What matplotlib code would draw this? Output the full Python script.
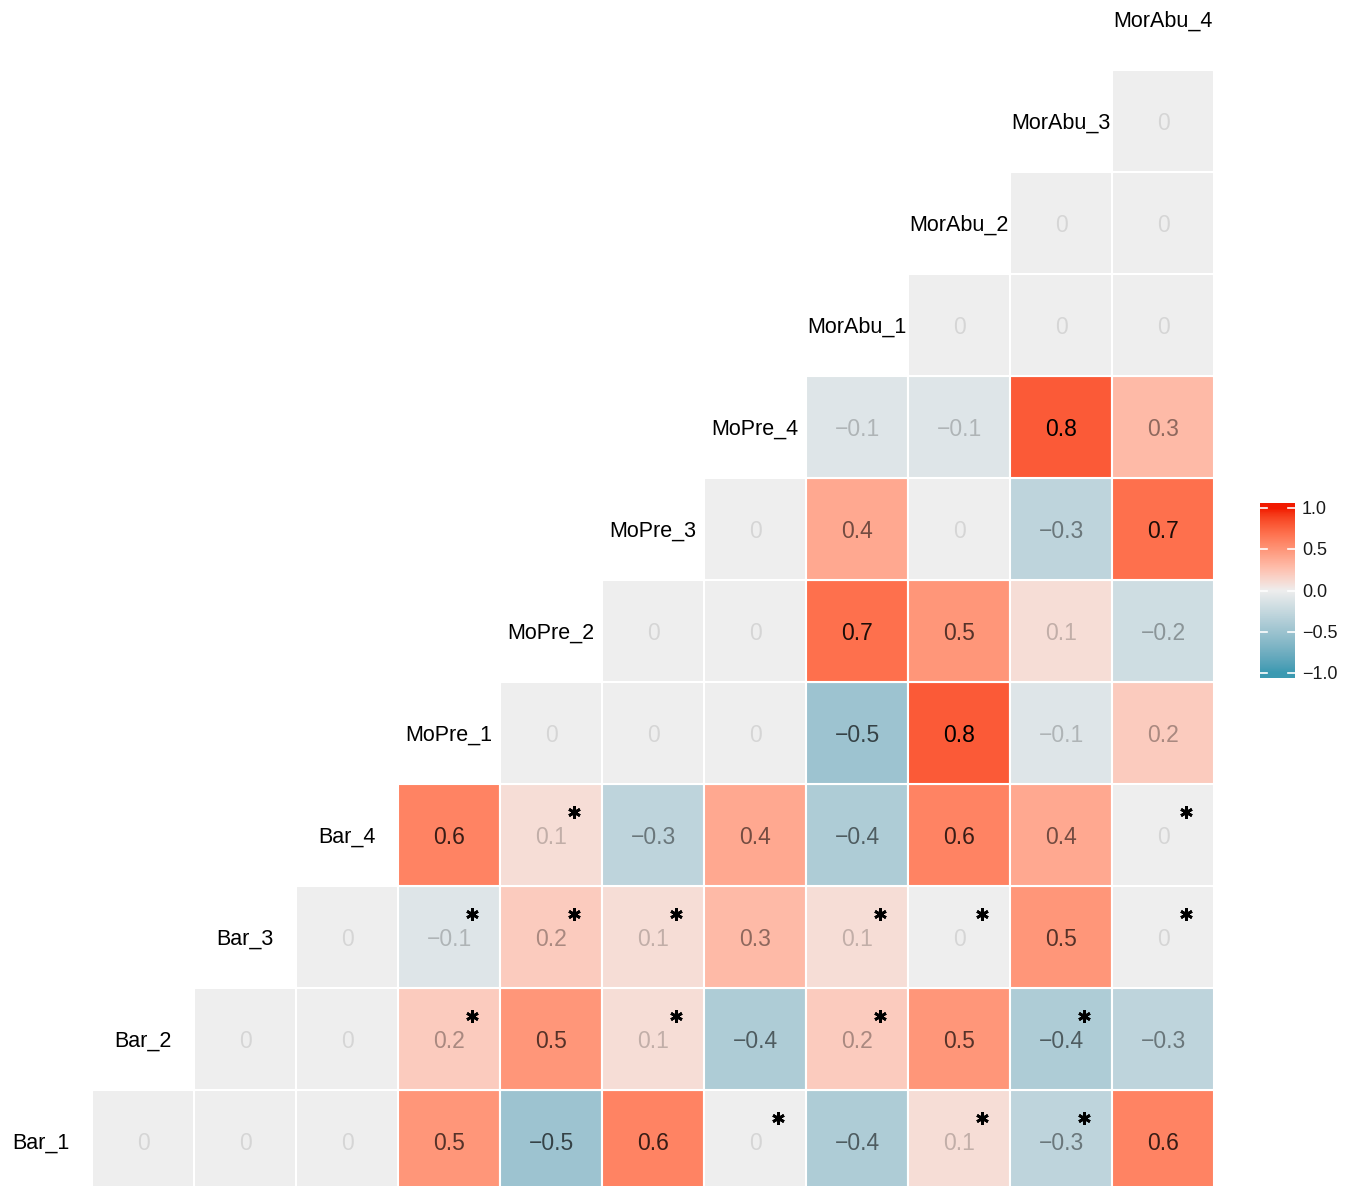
import matplotlib
matplotlib.use("Agg")
import matplotlib.pyplot as plt
import matplotlib.colors as mcolors
from matplotlib.patches import Rectangle
import numpy as np

plt.rcParams['font.family'] = ['Liberation Sans', 'DejaVu Sans']

# --- Data (lower triangle, one list per variable; first entry is the next variable) ---
labels = ["Bar_1", "Bar_2", "Bar_3", "Bar_4",
          "MoPre_1", "MoPre_2", "MoPre_3", "MoPre_4",
          "MorAbu_1", "MorAbu_2", "MorAbu_3", "MorAbu_4"]

bar_1 = [0, 0, 0, 0.5, -0.5, 0.6, 0, -0.4, 0.1, -0.3, 0.6]
bar_2 = [0, 0, 0.2, 0.5, 0.1, -0.4, 0.2, 0.5, -0.4, -0.3]
bar_3 = [0, -0.1, 0.2, 0.1, 0.3, 0.1, 0, 0.5, 0]
bar_4 = [0.6, 0.1, -0.3, 0.4, -0.4, 0.6, 0.4, 0]
mopre_1 = [0, 0, 0, -0.5, 0.8, -0.1, 0.2]
mopre_2 = [0, 0, 0.7, 0.5, 0.1, -0.2]
mopre_3 = [0, 0.4, 0, -0.3, 0.7]
mopre_4 = [-0.1, -0.1, 0.8, 0.3]
morabu_1 = [0, 0, 0]
morabu_2 = [0, 0]
morabu_3 = [0]

rows = [bar_1, bar_2, bar_3, bar_4, mopre_1, mopre_2, mopre_3, mopre_4,
        morabu_1, morabu_2, morabu_3]

# significant pairs (row variable, column variable)
stars = [("Bar_1", "MoPre_4"), ("Bar_1", "MorAbu_2"), ("Bar_1", "MorAbu_3"),
         ("Bar_2", "MoPre_1"), ("Bar_2", "MoPre_3"), ("Bar_2", "MorAbu_1"), ("Bar_2", "MorAbu_3"),
         ("Bar_3", "MoPre_1"), ("Bar_3", "MoPre_2"), ("Bar_3", "MoPre_3"), ("Bar_3", "MorAbu_1"),
         ("Bar_3", "MorAbu_2"), ("Bar_3", "MorAbu_4"),
         ("Bar_4", "MoPre_2"), ("Bar_4", "MorAbu_4")]

cbar_ticks = [-1.0, -0.5, 0.0, 0.5, 1.0]

LOW, MID, HIGH = "#3B9AB2", "#EEEEEE", "#F21A00"


# --- Lab interpolation like ggplot's gradient2 ---
WHITE = np.array([0.95047, 1.0, 1.08883])
M = np.array([[0.4124, 0.3576, 0.1805], [0.2126, 0.7152, 0.0722], [0.0193, 0.1192, 0.9505]])


def to_lab(c):
    rgb = np.array(mcolors.to_rgb(c))
    lin = np.where(rgb <= 0.04045, rgb / 12.92, ((rgb + 0.055) / 1.055) ** 2.4)
    xyz = M @ lin / WHITE
    f = np.where(xyz > 0.008856, np.cbrt(xyz), 7.787 * xyz + 16 / 116)
    return np.array([116 * f[1] - 16, 500 * (f[0] - f[1]), 200 * (f[1] - f[2])])


def from_lab(lab):
    fy = (lab[0] + 16) / 116
    f = np.array([fy + lab[1] / 500, fy, fy - lab[2] / 200])
    xyz = np.where(f ** 3 > 0.008856, f ** 3, (f - 16 / 116) / 7.787) * WHITE
    lin = np.linalg.solve(M, xyz)
    lin = np.clip(lin, 0, 1)
    rgb = np.where(lin <= 0.0031308, 12.92 * lin, 1.055 * lin ** (1 / 2.4) - 0.055)
    return np.clip(rgb, 0, 1)


lab_lo, lab_mid, lab_hi = to_lab(LOW), to_lab(MID), to_lab(HIGH)
samples = []
for t in np.linspace(-1, 1, 201):
    if t < 0:
        lab = lab_mid + (lab_lo - lab_mid) * (-t)
    else:
        lab = lab_mid + (lab_hi - lab_mid) * t
    samples.append(from_lab(lab))
cmap = mcolors.ListedColormap(samples)
norm = mcolors.Normalize(-1, 1, clip=True)


def fmt(v):
    return f"{v:g}".replace("-", "\u2212")


# --- Plot ---
fig = plt.figure(figsize=(13.55, 11.86), dpi=100)
ax = fig.add_axes([0, 0, 1214 / 1355, 1])
ax.set_xlim(-0.402, 11.5)
ax.set_ylim(-0.441, 11.186)
ax.axis('off')

max_abs = max(abs(v) for r in rows for v in r)

for i, row in enumerate(rows):
    for k, v in enumerate(row):
        x = i + 1 + k
        ax.add_patch(Rectangle((x - 0.5, i - 0.5), 1, 1, facecolor=cmap(norm(v)),
                               edgecolor='white', linewidth=1.5))
        alpha = 0.1 + 0.9 * abs(v) / max_abs
        ax.text(x, i - 0.02, fmt(v), ha='center', va='center', fontsize=16.5,
                color='black', alpha=alpha)

for i, name in enumerate(labels):
    ax.text(i, i - 0.02, name, ha='center', va='center', fontsize=15.5, color='black')

for rname, cname in stars:
    y = labels.index(rname)
    x = labels.index(cname)
    ax.plot(x + 0.23, y + 0.23, marker=(6, 2, 0), color='black',
            markersize=9, markeredgewidth=2.0)

# --- Colorbar ---
cax = fig.add_axes([1260 / 1355, (1186 - 678) / 1186, 35 / 1355, 175 / 1186])
grad = np.linspace(-1.06, 1.06, 300).reshape(-1, 1)
cax.imshow(grad, cmap=cmap, norm=norm, aspect='auto', origin='lower',
           extent=[0, 1, -1.06, 1.06])
cax.set_xlim(0, 1)
cax.set_ylim(-1.06, 1.06)
cax.axis('off')
for t in cbar_ticks:
    cax.plot([0, 0.2], [t, t], color='white', linewidth=1.2)
    cax.plot([0.8, 1], [t, t], color='white', linewidth=1.2)
    cax.text(1.2, t - 0.02, f"{t:.1f}".replace("-", "\u2212"), ha='left', va='center',
             fontsize=13, color='#1a1a1a', clip_on=False)

fig.savefig("out.png", dpi=100)
